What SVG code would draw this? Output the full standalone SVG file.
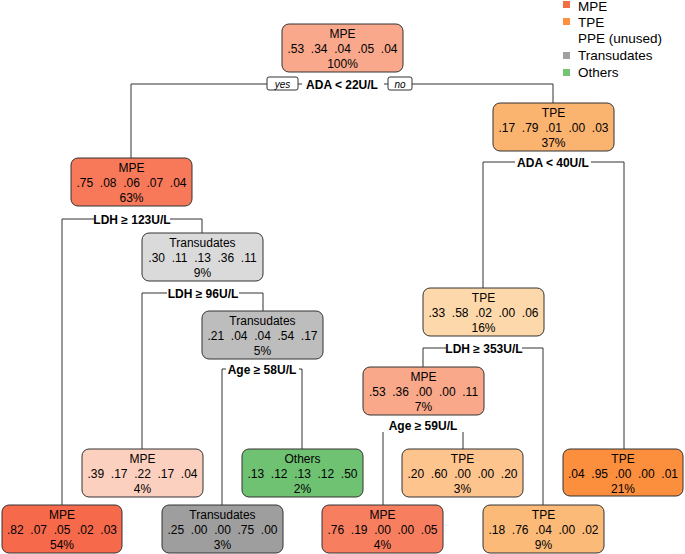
<svg xmlns="http://www.w3.org/2000/svg" width="685" height="554" viewBox="0 0 685 554">
<style>
.box{stroke:#333;stroke-width:1}
.t{font-family:"Liberation Sans",Arial,sans-serif;font-size:12px;fill:#000;text-anchor:middle}
.s{font-family:"Liberation Sans",Arial,sans-serif;font-size:12px;font-weight:bold;fill:#000;text-anchor:middle}
.yn{font-family:"Liberation Sans",Arial,sans-serif;font-size:10px;font-style:italic;fill:#000;text-anchor:middle}
.lg{font-family:"Liberation Sans",Arial,sans-serif;font-size:13.5px;fill:#000}
.c{stroke:#333;stroke-width:1;fill:none}
.bg{fill:#fff}
</style>
<rect width="685" height="554" fill="#fff"/>
<g id="legend">
<rect x="563" y="1" width="7" height="7" fill="#F46D43"/><text class="lg" x="578" y="11">MPE</text>
<rect x="563" y="18" width="7" height="7" fill="#FD9140"/><text class="lg" x="578" y="27">TPE</text>
<text class="lg" x="578" y="43">PPE (unused)</text>
<rect x="563" y="52" width="7" height="7" fill="#A0A0A0"/><text class="lg" x="578" y="60">Transudates</text>
<rect x="563" y="69" width="7" height="7" fill="#74C476"/><text class="lg" x="578" y="77">Others</text>
</g>
<g id="connectors">
<path class="c" d="M131 158V84H553V103"/>
<path class="c" d="M62 505V219H202V233"/>
<path class="c" d="M142 449V293H263V311"/>
<path class="c" d="M222 505V369H302V449"/>
<path class="c" d="M483 288V162H624V449"/>
<path class="c" d="M423 367V348H543V505"/>
<path class="c" d="M383 505V432M463 449V432"/>
<rect class="bg" x="302" y="77" width="82" height="14"/>
<text class="s" x="342" y="89">ADA &lt; 22U/L</text>
<rect class="box" x="267" y="77" width="31" height="13" rx="2" fill="#fff" stroke-width="0.8"/>
<text class="yn" x="282.5" y="87.5">yes</text>
<rect class="box" x="388" y="77" width="24" height="13" rx="2" fill="#fff" stroke-width="0.8"/>
<text class="yn" x="400" y="87.5">no</text>
<rect class="bg" x="94" y="212" width="76" height="14"/>
<text class="s" x="132" y="224">LDH ≥ 123U/L</text>
<rect class="bg" x="167" y="286" width="72" height="14"/>
<text class="s" x="203" y="298">LDH ≥ 96U/L</text>
<rect class="bg" x="226" y="362" width="73" height="14"/>
<text class="s" x="262" y="374">Age ≥ 58U/L</text>
<rect class="bg" x="515" y="155" width="76" height="14"/>
<text class="s" x="553" y="167">ADA &lt; 40U/L</text>
<rect class="bg" x="446" y="341" width="76" height="14"/>
<text class="s" x="484" y="353">LDH ≥ 353U/L</text>
<text class="s" x="423" y="430">Age ≥ 59U/L</text>
</g>
<g id="n1"><rect class="box" x="282" y="24" width="121" height="48" rx="7" fill="#F9A88C"/><text class="t" x="342.5" y="38">MPE</text><text class="t" x="342.5" y="53" xml:space="preserve">.53  .34  .04  .05  .04</text><text class="t" x="342.5" y="68">100%</text></g>
<g id="n2"><rect class="box" x="71" y="158" width="121" height="48" rx="7" fill="#F7795A"/><text class="t" x="131.5" y="172">MPE</text><text class="t" x="131.5" y="187" xml:space="preserve">.75  .08  .06  .07  .04</text><text class="t" x="131.5" y="202">63%</text></g>
<g id="n3"><rect class="box" x="493" y="103" width="121" height="48" rx="7" fill="#FBB370"/><text class="t" x="553.5" y="117">TPE</text><text class="t" x="553.5" y="132" xml:space="preserve">.17  .79  .01  .00  .03</text><text class="t" x="553.5" y="147">37%</text></g>
<g id="n4"><rect class="box" x="142" y="233" width="121" height="48" rx="7" fill="#DADADA"/><text class="t" x="202.5" y="247">Transudates</text><text class="t" x="202.5" y="262" xml:space="preserve">.30  .11  .13  .36  .11</text><text class="t" x="202.5" y="277">9%</text></g>
<g id="n5"><rect class="box" x="202" y="311" width="121" height="48" rx="7" fill="#BDBDBD"/><text class="t" x="262.5" y="325">Transudates</text><text class="t" x="262.5" y="340" xml:space="preserve">.21  .04  .04  .54  .17</text><text class="t" x="262.5" y="355">5%</text></g>
<g id="n6"><rect class="box" x="423" y="288" width="121" height="48" rx="7" fill="#FDD8AA"/><text class="t" x="483.5" y="302">TPE</text><text class="t" x="483.5" y="317" xml:space="preserve">.33  .58  .02  .00  .06</text><text class="t" x="483.5" y="332">16%</text></g>
<g id="n7"><rect class="box" x="363" y="367" width="121" height="48" rx="7" fill="#F9A88A"/><text class="t" x="423.5" y="381">MPE</text><text class="t" x="423.5" y="396" xml:space="preserve">.53  .36  .00  .00  .11</text><text class="t" x="423.5" y="411">7%</text></g>
<g id="n8"><rect class="box" x="82" y="449" width="121" height="48" rx="7" fill="#FCD0BF"/><text class="t" x="142.5" y="463">MPE</text><text class="t" x="142.5" y="478" xml:space="preserve">.39  .17  .22  .17  .04</text><text class="t" x="142.5" y="493">4%</text></g>
<g id="n9"><rect class="box" x="242" y="449" width="121" height="48" rx="7" fill="#70C273"/><text class="t" x="302.5" y="463">Others</text><text class="t" x="302.5" y="478" xml:space="preserve">.13  .12  .13  .12  .50</text><text class="t" x="302.5" y="493">2%</text></g>
<g id="n10"><rect class="box" x="402" y="449" width="121" height="48" rx="7" fill="#FDC48E"/><text class="t" x="462.5" y="463">TPE</text><text class="t" x="462.5" y="478" xml:space="preserve">.20  .60  .00  .00  .20</text><text class="t" x="462.5" y="493">3%</text></g>
<g id="n11"><rect class="box" x="563" y="449" width="120" height="47" rx="7" fill="#FC8F3E"/><text class="t" x="623" y="463">TPE</text><text class="t" x="623" y="478" xml:space="preserve">.04  .95  .00  .00  .01</text><text class="t" x="623" y="493">21%</text></g>
<g id="n12"><rect class="box" x="2" y="505" width="120" height="48" rx="7" fill="#F6694A"/><text class="t" x="62" y="519">MPE</text><text class="t" x="62" y="534" xml:space="preserve">.82  .07  .05  .02  .03</text><text class="t" x="62" y="549">54%</text></g>
<g id="n13"><rect class="box" x="162" y="505" width="121" height="48" rx="7" fill="#9E9E9E"/><text class="t" x="222.5" y="519">Transudates</text><text class="t" x="222.5" y="534" xml:space="preserve">.25  .00  .00  .75  .00</text><text class="t" x="222.5" y="549">3%</text></g>
<g id="n14"><rect class="box" x="322" y="505" width="121" height="48" rx="7" fill="#F77F60"/><text class="t" x="382.5" y="519">MPE</text><text class="t" x="382.5" y="534" xml:space="preserve">.76  .19  .00  .00  .05</text><text class="t" x="382.5" y="549">4%</text></g>
<g id="n15"><rect class="box" x="483" y="505" width="121" height="48" rx="7" fill="#FBBA78"/><text class="t" x="543.5" y="519">TPE</text><text class="t" x="543.5" y="534" xml:space="preserve">.18  .76  .04  .00  .02</text><text class="t" x="543.5" y="549">9%</text></g>
</svg>
